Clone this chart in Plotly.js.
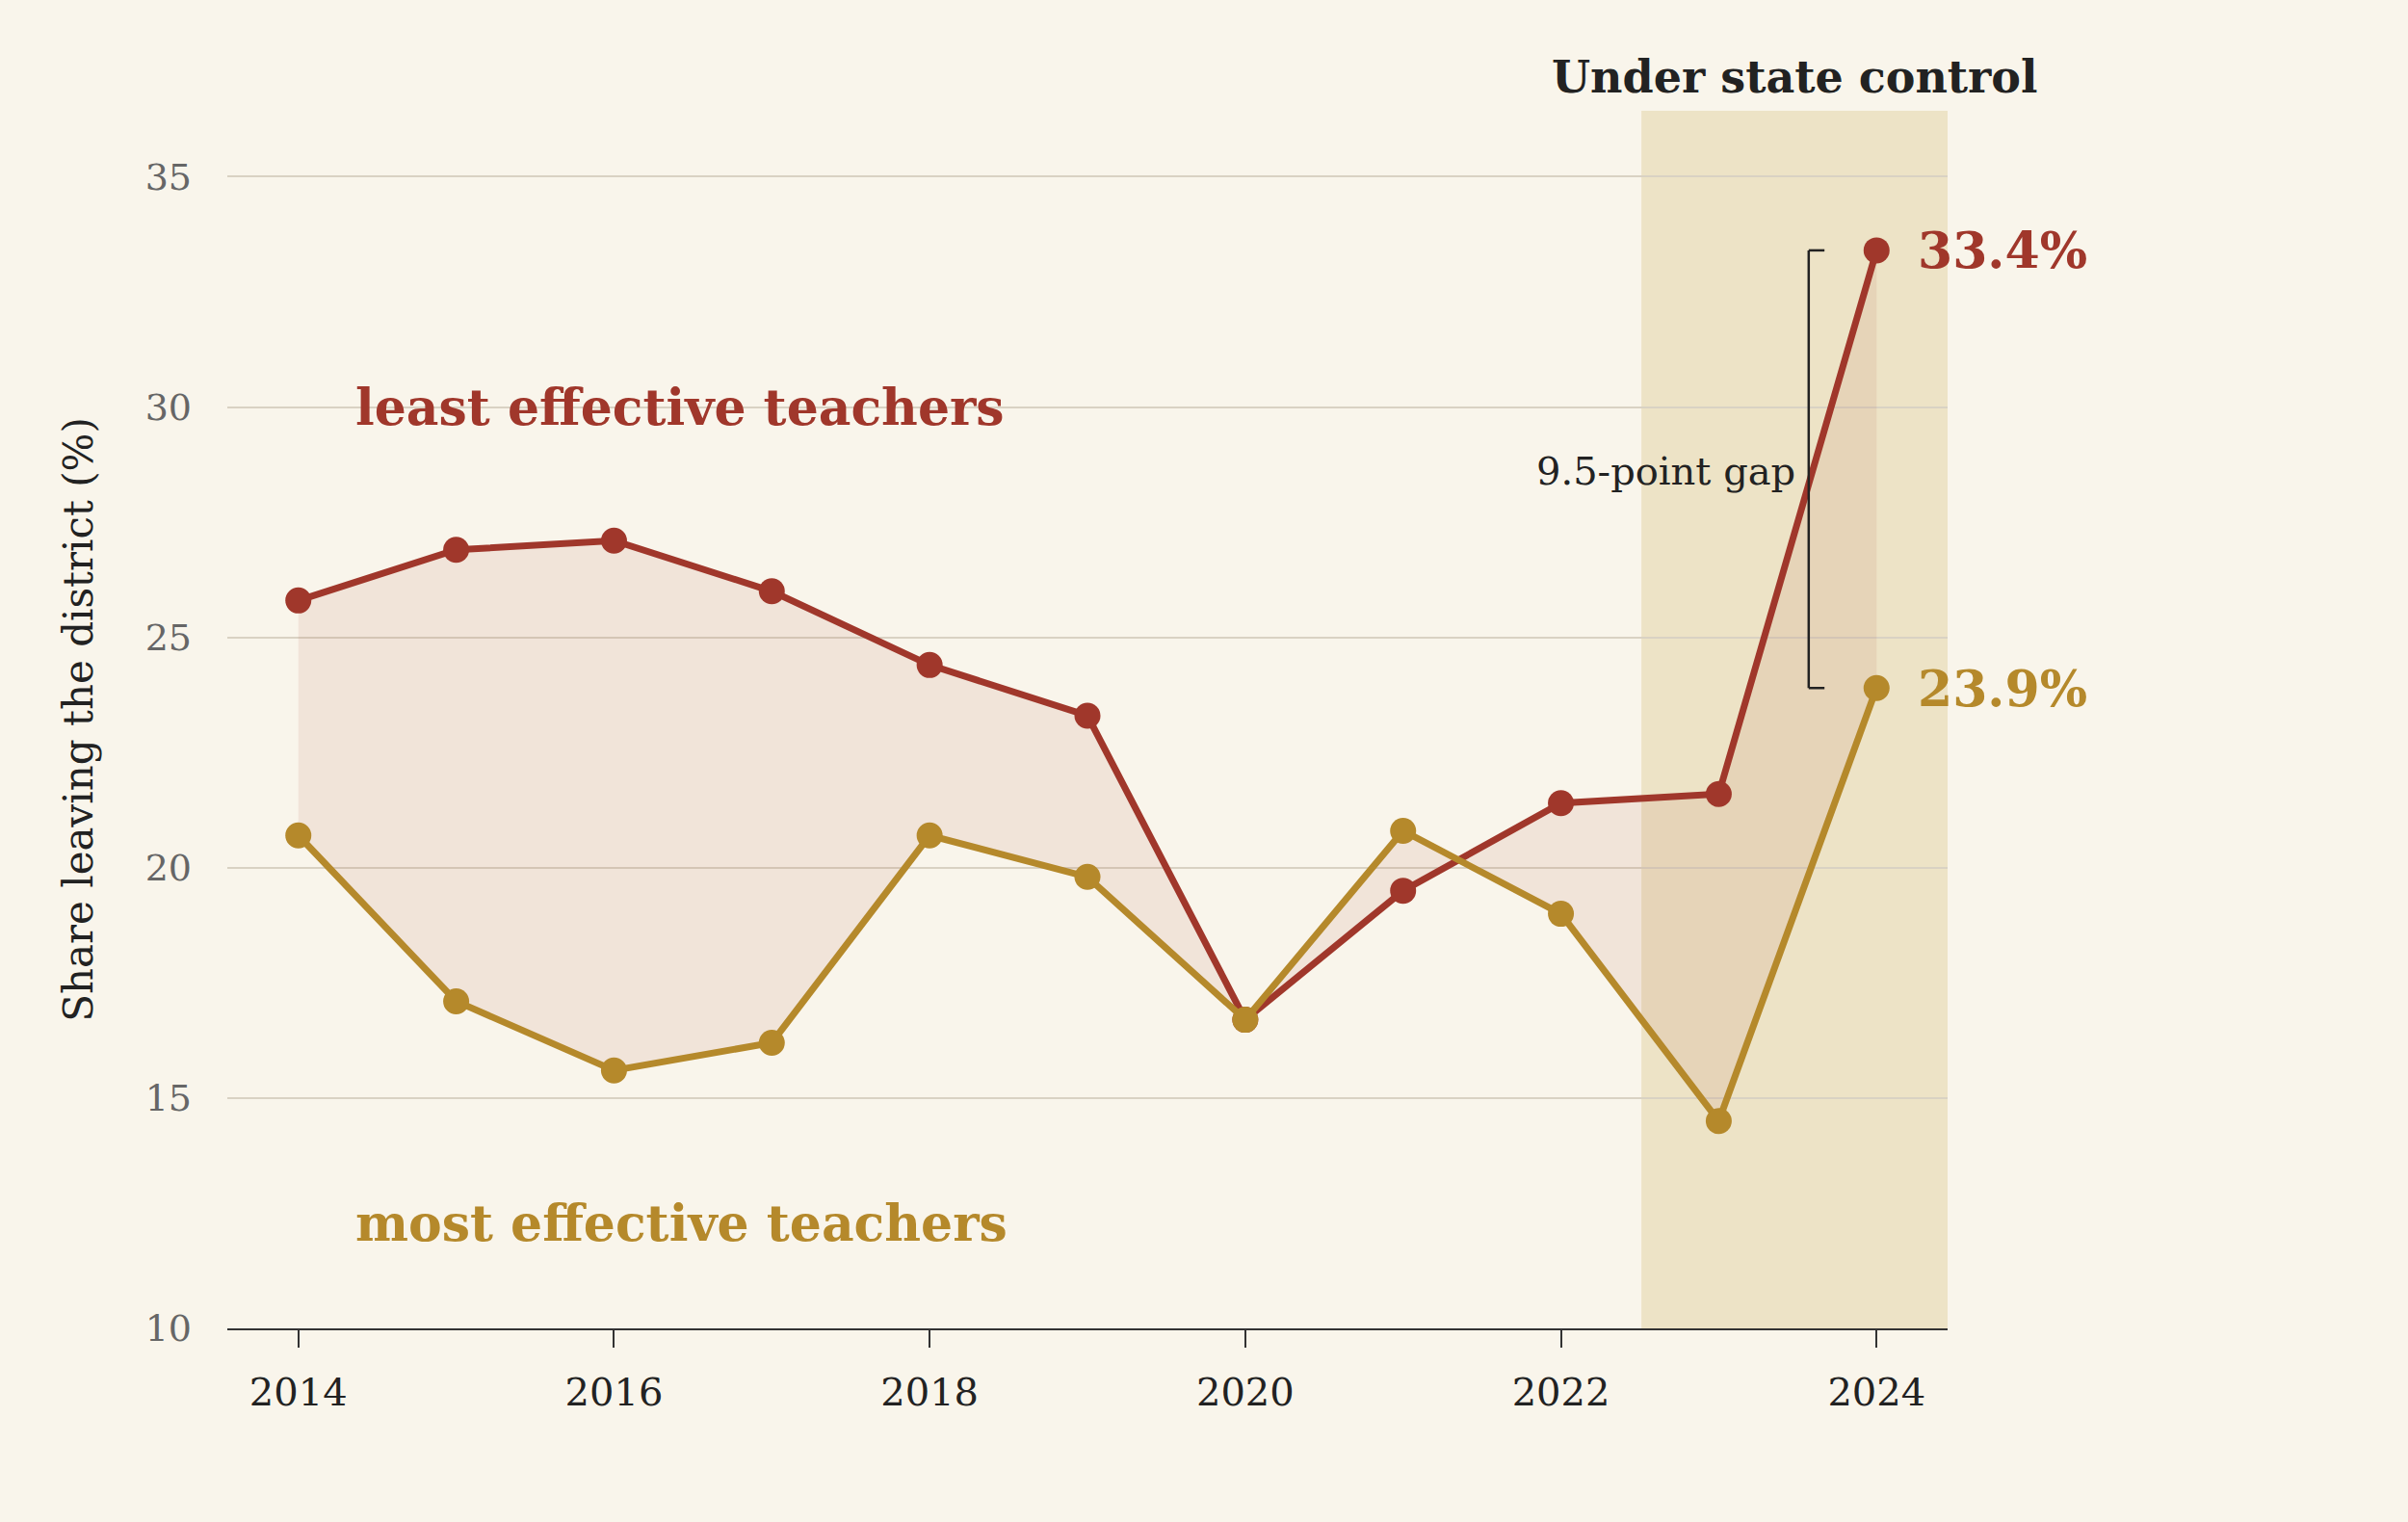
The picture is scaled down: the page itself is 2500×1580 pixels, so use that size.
<!DOCTYPE html>
<html><head><meta charset="utf-8">
<script src="https://cdn.plot.ly/plotly-3.0.1.min.js"></script>
<style>body{margin:0;background:#f9f5eb}</style></head>
<body><div id="chart" style="width:2500px;height:1580px"></div>
<script>
const years = [2014,2015,2016,2017,2018,2019,2020,2021,2022,2023,2024];
const leastEffective = [25.8,26.9,27.1,26.0,24.4,23.3,16.7,19.5,21.4,21.6,33.4];
const mostEffective = [20.7,17.1,15.6,16.2,20.7,19.8,16.7,20.8,19.0,14.5,23.9];
const RED = '#a0372b', GOLD = '#b5892b';
const F = 'DejaVu Serif, Georgia, serif';
const traces = [
 {x:years,y:mostEffective,mode:'lines',line:{width:0},hoverinfo:'skip',showlegend:false},
 {x:years,y:leastEffective,mode:'lines',line:{width:0},fill:'tonexty',fillcolor:'rgba(170,70,40,0.09)',hoverinfo:'skip',showlegend:false},
 {x:years,y:leastEffective,mode:'lines+markers',line:{color:RED,width:7},marker:{color:RED,size:27},showlegend:false},
 {x:years,y:mostEffective,mode:'lines+markers',line:{color:GOLD,width:7},marker:{color:GOLD,size:27},showlegend:false}
];
const last = years.length-1;
const layout = {
 width:2500,height:1580,paper_bgcolor:'#f9f5eb',plot_bgcolor:'#f9f5eb',
 margin:{l:236,r:478,t:115,b:201},
 font:{family:F,color:'#222'},
 xaxis:{range:[2013.55,2024.45],tickvals:[2014,2016,2018,2020,2022,2024],showgrid:false,zeroline:false,
   showline:true,linecolor:'#333',linewidth:2,ticks:'outside',ticklen:18,tickcolor:'#333',tickwidth:2,
   ticklabelstandoff:12,tickfont:{size:40,family:F,color:'#222'}},
 yaxis:{range:[10,36.43],tickvals:[10,15,20,25,30,35],showgrid:true,gridcolor:'#d9d2c3',gridwidth:1.5,zeroline:false,
   ticks:'',ticklabelstandoff:36,tickfont:{size:38,family:F,color:'#666'},
   title:{text:'Share leaving the district (%)',font:{size:42,family:F,color:'#222'},standoff:40}},
 shapes:[
  {type:'rect',xref:'x',yref:'paper',x0:2022.51,x1:2024.45,y0:0,y1:1,fillcolor:'#ede3c6',line:{width:0},layer:'below'},
  {type:'line',xref:'x',yref:'y',x0:2023.57,x1:2023.57,y0:mostEffective[last],y1:leastEffective[last],line:{color:'#222',width:2.5}},
  {type:'line',xref:'x',yref:'y',x0:2023.57,x1:2023.67,y0:mostEffective[last],y1:mostEffective[last],line:{color:'#222',width:2.5}},
  {type:'line',xref:'x',yref:'y',x0:2023.57,x1:2023.67,y0:leastEffective[last],y1:leastEffective[last],line:{color:'#222',width:2.5}}
 ],
 annotations:[
  {x:2024.25,y:leastEffective[last],xref:'x',yref:'y',text:'<b>'+leastEffective[last].toFixed(1)+'%</b>',showarrow:false,xanchor:'left',font:{size:52,color:RED,family:F}},
  {x:2024.25,y:mostEffective[last],xref:'x',yref:'y',text:'<b>'+mostEffective[last].toFixed(1)+'%</b>',showarrow:false,xanchor:'left',font:{size:52,color:GOLD,family:F}},
  {x:2014.35,y:30,xref:'x',yref:'y',text:'<b>least effective teachers</b>',showarrow:false,xanchor:'left',font:{size:52,color:RED,family:F}},
  {x:2014.35,y:12.3,xref:'x',yref:'y',text:'<b>most effective teachers</b>',showarrow:false,xanchor:'left',font:{size:52,color:GOLD,family:F}},
  {x:2023.5,y:28.6,xref:'x',yref:'y',text:'9.5-point gap',showarrow:false,xanchor:'right',font:{size:40,color:'#222',family:F}},
  {x:2023.48,y:1.0,xref:'x',yref:'paper',text:'<b>Under state control</b>',showarrow:false,yanchor:'bottom',yshift:6,font:{size:46,color:'#222',family:F}}
 ]
};
Plotly.newPlot('chart',traces,layout,{displayModeBar:false});
</script></body></html>
